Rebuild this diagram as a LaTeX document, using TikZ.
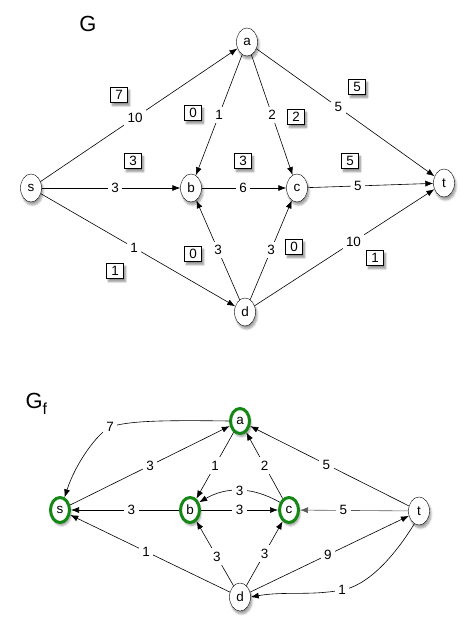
\documentclass[tikz,border=0pt]{standalone}
\usepackage{fontspec}
\setmainfont{Liberation Sans}
\usetikzlibrary{shapes.geometric,arrows.meta,shadows.blur}
\definecolor{ringgreen}{RGB}{20,135,20}
\begin{document}
\begin{tikzpicture}[x=1bp,y=-1bp,
  every node/.style={font=\fontsize{13.5}{15}\selectfont},
  vtx/.style={ellipse,draw,fill=white,minimum width=21bp,minimum height=28bp,inner sep=0pt,
    blur shadow={shadow xshift=1.5bp,shadow yshift=-3bp,shadow opacity=40,shadow blur steps=6}},
  gvtx/.style={vtx,draw=ringgreen,line width=3bp,minimum width=19bp,minimum height=25bp},
  lab/.style={fill=white,inner sep=3.5bp},
  fbox/.style={draw,fill=white,minimum width=17bp,minimum height=15bp,inner sep=0pt,
    blur shadow={shadow xshift=2bp,shadow yshift=-3bp,shadow opacity=45,shadow blur steps=6}},
  arr/.style={-{Latex[length=8bp,width=6bp]},line width=0.6bp},
  title/.style={font=\fontsize{22}{24}\selectfont}]
\useasboundingbox (0,0) rectangle (476,632);
% ---------------- G ----------------
\node[title] (G) at (88,24) {G};
\node[vtx] (a) at (247,42) {a};
\node[vtx] (s) at (31,188) {s};
\node[vtx] (b) at (191,188) {b};
\node[vtx] (c) at (297,188) {c};
\node[vtx] (t) at (444,183) {t};
\node[vtx] (d) at (245,312) {d};
\draw[arr] (s) -- node[lab,pos=0.48] {10} (a);
\draw[arr] (a) -- node[lab,pos=0.5] {1} (b);
\draw[arr] (a) -- node[lab,pos=0.5] {2} (c);
\draw[arr] (a) -- node[lab,pos=0.46] {5} (t);
\draw[arr] (s) -- node[lab,pos=0.53] {3} (b);
\draw[arr] (b) -- node[lab,pos=0.49] {6} (c);
\draw[arr] (c) -- node[lab,pos=0.4] {5} (t);
\draw[arr] (s) -- node[lab,pos=0.48] {1} (d);
\draw[arr] (d) -- node[lab,pos=0.5] {3} (b);
\draw[arr] (d) -- node[lab,pos=0.5] {3} (c);
\draw[arr] (d) -- node[lab,pos=0.55] {10} (t);
\node[fbox] (f1) at (119,95) {7};
\node[fbox] (f2) at (193,113) {0};
\node[fbox] (f3) at (296,117) {2};
\node[fbox] (f4) at (357,87) {5};
\node[fbox] (f5) at (133,161) {3};
\node[fbox] (f6) at (243,161) {3};
\node[fbox] (f7) at (350,161) {5};
\node[fbox] (f8) at (115,271) {1};
\node[fbox] (f9) at (193,254) {0};
\node[fbox] (f10) at (294,247) {0};
\node[fbox] (f11) at (375,258) {1};
% ---------------- G_f ----------------
\node[title,anchor=west] (Gf) at (22,404) {G\raisebox{-6bp}{\fontsize{16}{18}\selectfont f}};
\node[gvtx] (A) at (240,421) {a};
\node[gvtx] (S) at (60,510) {s};
\node[gvtx] (B) at (190,510) {b};
\node[gvtx] (C) at (289,510) {c};
\node[vtx] (T) at (419,511) {t};
\node[vtx] (D) at (240,597) {d};
\draw[arr] (A.west) .. controls (160,420) and (128,421) .. (110,427) node[lab] {7}
   .. controls (98,433) and (76,462) .. (S.70);
\draw[arr] (S) -- node[lab,pos=0.5] {3} (A);
\draw[arr] (A) -- node[lab,pos=0.5] {1} (B);
\draw[arr] (C) -- node[lab,pos=0.5] {2} (A);
\draw[arr] (T) -- node[lab,pos=0.52] {5} (A);
\draw[arr] (C.140) to[bend right=30] node[lab,pos=0.5] {3} (B.40);
\draw[arr] (B) -- node[lab,pos=0.44] {3} (S);
\draw[arr] (B) -- node[lab,pos=0.5] {3} (C);
\draw[arr,draw=black!65] (T) -- node[lab,pos=0.6,text=black] {5} (C);
\draw[arr] (D) -- node[lab,pos=0.525] {1} (S);
\draw[arr] (D) -- node[lab,pos=0.45] {3} (B);
\draw[arr] (D) -- node[lab,pos=0.5] {3} (C);
\draw[arr] (D) -- node[lab,pos=0.49] {9} (T);
\draw[arr] (T.250) .. controls (392,560) and (366,586) .. (342,590) node[lab] {1}
   .. controls (310,596) and (285,591) .. (D.east);
\end{tikzpicture}
\end{document}
